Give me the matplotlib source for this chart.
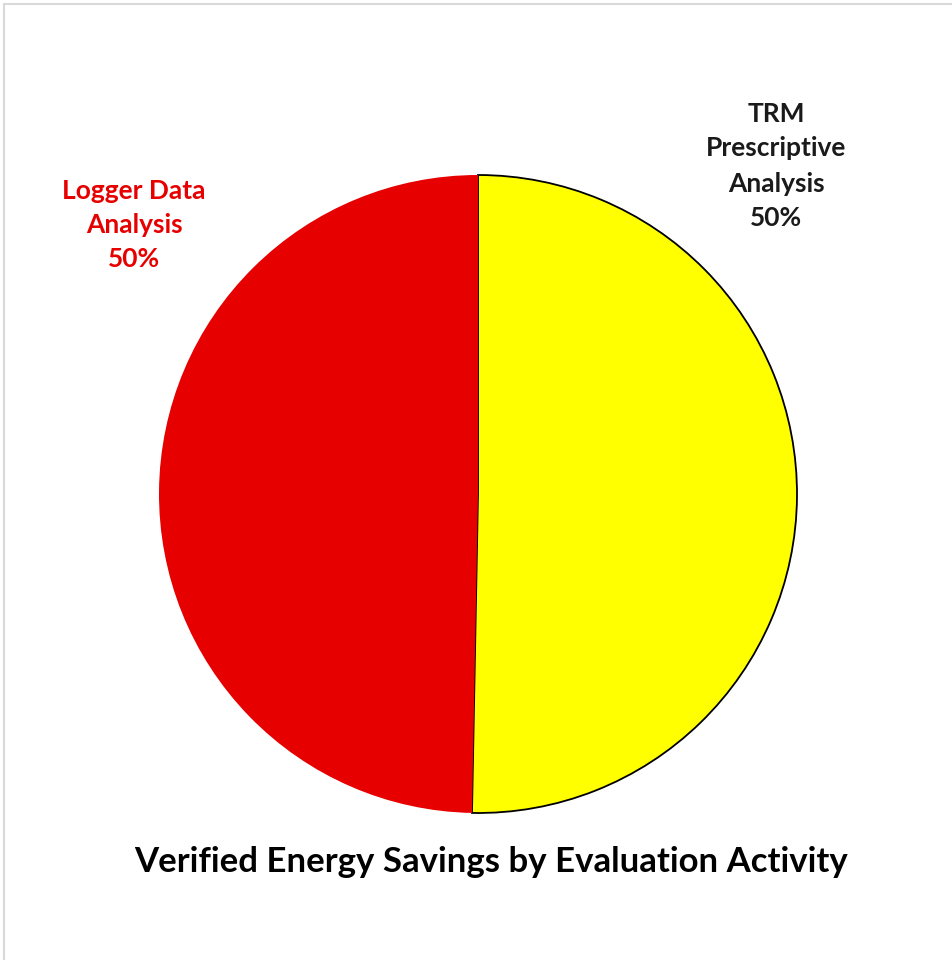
import matplotlib.pyplot as plt
from matplotlib.lines import Line2D

# slices drawn clockwise from 12 o'clock
labels = ["TRM\nPrescriptive\nAnalysis\n50%", "Logger Data\nAnalysis\n50%"]
shares = [50.3, 49.7]
colors = ["#FFFF00", "#E60000"]
title = "Verified Energy Savings by Evaluation Activity"

plt.rcParams['font.family'] = ['Lato', 'DejaVu Sans']

W, H = 952, 960
fig = plt.figure(figsize=(W / 100, H / 100), dpi=100)

def fx(x):
    return x / W

def fy(y):
    return 1 - y / H

# pie axes placed to cover the circle's pixel box
ax = fig.add_axes([fx(159), fy(813), (797 - 159) / W, (813 - 175) / H])
wedges, _ = ax.pie(shares, colors=colors, startangle=90, counterclock=False,
                   radius=1, center=(0, 0))
wedges[0].set_edgecolor("black")
wedges[0].set_linewidth(1.3)
wedges[1].set_edgecolor("none")
ax.set_xlim(-1, 1)
ax.set_ylim(-1, 1)
ax.set_aspect('auto')
ax.axis('off')

fig.text(fx(776), fy(166), labels[0], ha='center', va='center', fontsize=19,
         fontweight='bold', color='#1a1a1a', linespacing=1.55)
fig.text(fx(134), fy(225), labels[1], ha='center', va='center', fontsize=19,
         fontweight='bold', color='#E60000', linespacing=1.52)
fig.text(fx(491), fy(862), title, ha='center', va='center', fontsize=25,
         fontweight='bold', color='black')

# faint frame on the left and top edges
fig.add_artist(Line2D([fx(4), fx(4)], [fy(4), 0], color='#d9d9d9', lw=1.5))
fig.add_artist(Line2D([fx(4), 1], [fy(4), fy(4)], color='#d9d9d9', lw=1.5))

fig.savefig("out.png", dpi=100)
